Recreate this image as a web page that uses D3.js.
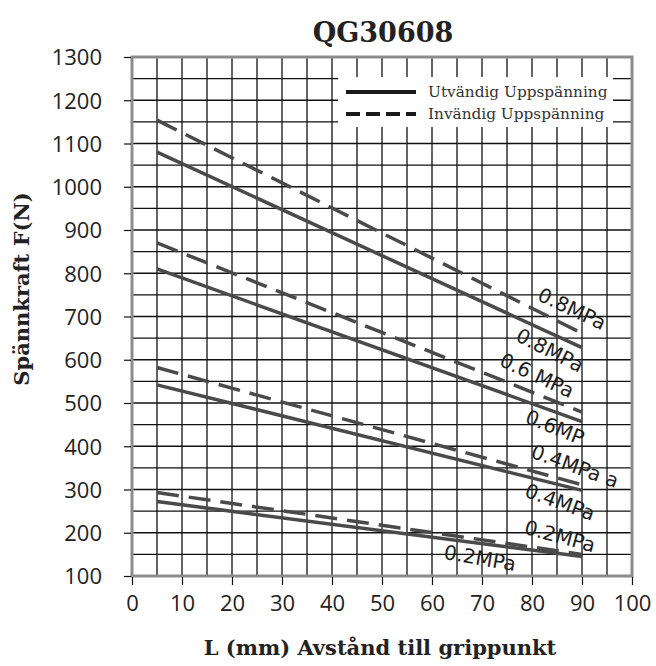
<!DOCTYPE html>
<html><head><meta charset="utf-8">
<script src="https://cdn.jsdelivr.net/npm/d3@7/dist/d3.min.js"></script>
<style>body{margin:0;background:#fff}svg{display:block}</style>
</head><body>
<svg id="chart" width="656" height="666"></svg>
<script>
// ---- data ----
const title = "QG30608";
const xLabel = "L (mm) Avstånd till grippunkt";
const yLabel = "Spännkraft F(N)";
const xTicks = [0,10,20,30,40,50,60,70,80,90,100];
const yTicks = [100,200,300,400,500,600,700,800,900,1000,1100,1200,1300];
const xPoints = [5, 90];
const pressures = ["0.8MPa","0.6MPa","0.4MPa","0.2MPa"];
const outerStart = [1080, 810, 542, 272];   // Utvändig (solid)
const outerEnd   = [628, 457, 298, 145];
const innerStart = [1154, 870, 582, 293];   // Invändig (dashed)
const innerEnd   = [661, 479, 311, 150];
const legendNames = ["Utvändig Uppspänning","Invändig Uppspänning"];
const labelTexts = ["0.8MPa","0.8MPa","0.6 MPa","0.6MP","0.4MPa a","0.4MPa","0.2MPa","0.2MPa"];
const labelX     = [88, 83.6, 81, 84.6, 88.6, 85.6, 85.6, 69.6];
const labelY     = [718, 622, 564, 444, 354, 271, 192, 141.5];
const labelAngle = [25, 27, 25, 22, 20, 20, 15, 10];

// ---- layout ----
const svg = d3.select("#chart");
const x = d3.scaleLinear().domain([0,100]).range([132,632]);
const y = d3.scaleLinear().domain([100,1300]).range([576,57]);
const serif = "'DejaVu Serif', serif";
const sans = "'Open Sans', sans-serif";

// grid
const g = svg.append("g");
g.selectAll(".vg").data(d3.range(5,100,5)).join("line")
  .attr("x1", d=>x(d)).attr("x2", d=>x(d)).attr("y1", y(100)).attr("y2", y(1300))
  .attr("stroke","#111").attr("stroke-width",1.3);
g.selectAll(".hg").data(d3.range(150,1300,50)).join("line")
  .attr("x1", x(0)).attr("x2", x(100)).attr("y1", d=>y(d)).attr("y2", d=>y(d))
  .attr("stroke","#111").attr("stroke-width",1.3);

// legend background (covers grid)
svg.append("rect").attr("x",338).attr("y",77).attr("width",275).attr("height",50).attr("fill","#fff");

// border
svg.append("rect").attr("x",x(0)).attr("y",y(1300)).attr("width",x(100)-x(0)).attr("height",y(100)-y(1300))
  .attr("fill","none").attr("stroke","#8c8c8c").attr("stroke-width",3);

// axes ticks
svg.append("g").attr("transform",`translate(${x(0)-1},0)`)
  .call(d3.axisLeft(y).tickValues(yTicks).tickSize(7).tickPadding(22).tickFormat(d3.format("d")))
  .call(a=>a.select(".domain").remove())
  .call(a=>a.selectAll("line").attr("stroke","#111").attr("stroke-width",1.2))
  .call(a=>a.selectAll("text").attr("font-family",sans).attr("font-size",22).attr("fill","#222").attr("dy","0.36em"));
svg.append("g").attr("transform",`translate(0,${y(100)+1})`)
  .call(d3.axisBottom(x).tickValues(xTicks).tickSize(8).tickPadding(10).tickFormat(d3.format("d")))
  .call(a=>a.select(".domain").remove())
  .call(a=>a.selectAll("line").attr("stroke","#111").attr("stroke-width",1.2))
  .call(a=>a.selectAll("text").attr("font-family",sans).attr("font-size",22).attr("fill","#222"));

// data lines
const line = d3.line().x(d=>x(d[0])).y(d=>y(d[1]));
pressures.forEach((p,i)=>{
  svg.append("path").datum([[xPoints[0],innerStart[i]],[xPoints[1],innerEnd[i]]])
    .attr("d",line).attr("fill","none").attr("stroke","#4a4a4a").attr("stroke-width",3.5)
    .attr("stroke-dasharray","22,10");
  svg.append("path").datum([[xPoints[0],outerStart[i]],[xPoints[1],outerEnd[i]]])
    .attr("d",line).attr("fill","none").attr("stroke","#4a4a4a").attr("stroke-width",3.5);
});

// labels
labelTexts.forEach((t,i)=>{
  svg.append("text").text(t)
    .attr("transform",`translate(${x(labelX[i])},${y(labelY[i])}) rotate(${labelAngle[i]})`)
    .attr("text-anchor","middle").attr("dominant-baseline","central")
    .attr("font-family","'DejaVu Sans', sans-serif").attr("font-size",20).attr("fill","#1e1e1e");
});

// legend
svg.append("line").attr("x1",346).attr("x2",416).attr("y1",92).attr("y2",92)
  .attr("stroke","#1a1a1a").attr("stroke-width",4);
svg.append("line").attr("x1",346).attr("x2",416).attr("y1",114).attr("y2",114)
  .attr("stroke","#1a1a1a").attr("stroke-width",4).attr("stroke-dasharray","14,6");
legendNames.forEach((n,i)=>{
  svg.append("text").text(n).attr("x",428).attr("y",97+22*i)
    .attr("font-family",serif).attr("font-size",15.3).attr("fill","#333");
});

// titles
svg.append("text").text(title).attr("x",383).attr("y",42).attr("text-anchor","middle")
  .attr("font-family",serif).attr("font-weight","bold").attr("font-size",27).attr("fill","#222");
svg.append("text").text(xLabel).attr("x",380).attr("y",655).attr("text-anchor","middle")
  .attr("font-family",serif).attr("font-weight","bold").attr("font-size",21).attr("fill","#222");
svg.append("text").text(yLabel).attr("transform","translate(29,289) rotate(-90)").attr("text-anchor","middle")
  .attr("font-family",serif).attr("font-weight","bold").attr("font-size",21).attr("fill","#222");
</script>
</body></html>
